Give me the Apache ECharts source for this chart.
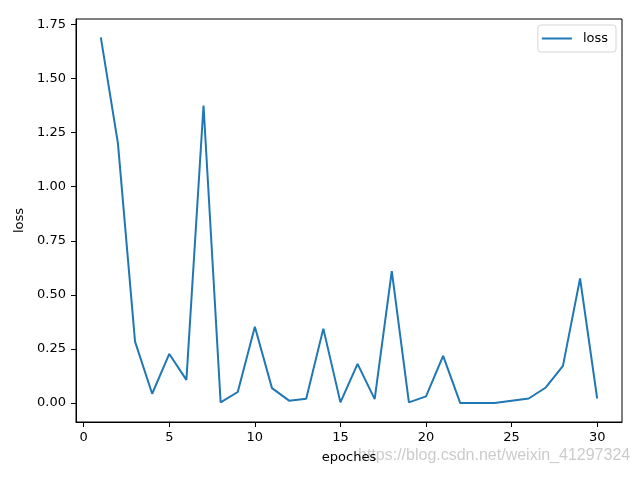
<!DOCTYPE html>
<html>
<head>
<meta charset="utf-8">
<script src="https://cdn.jsdelivr.net/npm/echarts@6/dist/echarts.min.js"></script>
<style>
    html, body { margin: 0; padding: 0; background: #fff; }
    #main { width: 640px; height: 480px; }
</style>
</head>
<body>
<div id="main"></div>
<script>
// epochs 1..30
var epoches = [1, 2, 3, 4, 5, 6, 7, 8, 9, 10, 11, 12, 13, 14, 15,
    16, 17, 18, 19, 20, 21, 22, 23, 24, 25, 26, 27, 28, 29, 30];
// loss values
var lossValues = [1.69, 1.20, 0.284, 0.043, 0.227, 0.107, 1.375, 0.003, 0.051, 0.353,
    0.069, 0.011, 0.020, 0.344, 0.003, 0.181, 0.018, 0.610, 0.003, 0.031,
    0.218, 0.0, 0.0, 0.0, 0.011, 0.021, 0.072, 0.172, 0.576, 0.021];
var xTicks = [0, 5, 10, 15, 20, 25, 30];
var yTicks = [0, 0.25, 0.5, 0.75, 1.0, 1.25, 1.5, 1.75];

function showLossChart() {
    var myChart = echarts.init(document.getElementById('main'));

    var pts = new Array();
    for (let i = 0; i < epoches.length; i++) {
        pts[i] = [epoches[i], lossValues[i]];
    }

    var txt = { color: '#000', fontFamily: 'DejaVu Sans', fontSize: 13 };

    var option = {
        animation: false,
        backgroundColor: '#fff',
        grid: { left: 76, right: 18, top: 19, bottom: 58, show: true, borderColor: '#000', borderWidth: 1 },
        legend: {
            data: ['loss'],
            right: 24, top: 25,
            orient: 'vertical',
            itemWidth: 30, itemHeight: 2,
            icon: 'rect',
            padding: [7, 8, 7, 4],
            borderColor: '#d6d6d6', borderWidth: 1, borderRadius: 3,
            backgroundColor: '#fff',
            textStyle: { color: '#000', fontFamily: 'DejaVu Sans', fontSize: 13, padding: [0, 0, 0, 6] }
        },
        xAxis: {
            type: 'value',
            min: -0.45, max: 31.45,
            name: 'epoches', nameLocation: 'middle', nameGap: 29,
            nameTextStyle: txt,
            splitLine: { show: false },
            axisLine: { show: true, onZero: false, lineStyle: { color: '#000' } },
            axisTick: { show: true, length: 5, lineStyle: { color: '#000' }, customValues: xTicks },
            axisLabel: { color: '#000', fontFamily: 'DejaVu Sans', fontSize: 13, margin: 9, customValues: xTicks }
        },
        yAxis: {
            type: 'value',
            min: -0.0876, max: 1.775,
            name: 'loss', nameLocation: 'middle', nameGap: 45,
            nameTextStyle: txt,
            splitLine: { show: false },
            axisLine: { show: true, onZero: false, lineStyle: { color: '#000' } },
            axisTick: { show: true, length: 5, lineStyle: { color: '#000' }, customValues: yTicks },
            axisLabel: {
                color: '#000', fontFamily: 'DejaVu Sans', fontSize: 13, margin: 10,
                customValues: yTicks,
                formatter: function (v) { return v.toFixed(2); }
            }
        },
        series: [{
            name: 'loss',
            type: 'line',
            data: pts,
            symbol: 'none',
            color: '#1f77b4',
            lineStyle: { width: 2, color: '#1f77b4' }
        }],
        graphic: [{
            type: 'text',
            left: 358, top: 448,
            style: {
                text: 'https://blog.csdn.net/weixin_41297324',
                fill: 'rgba(190,190,190,0.8)',
                font: '16px "Liberation Sans", Arial, sans-serif'
            }
        }]
    };

    myChart.setOption(option);
}

showLossChart();
</script>
</body>
</html>
